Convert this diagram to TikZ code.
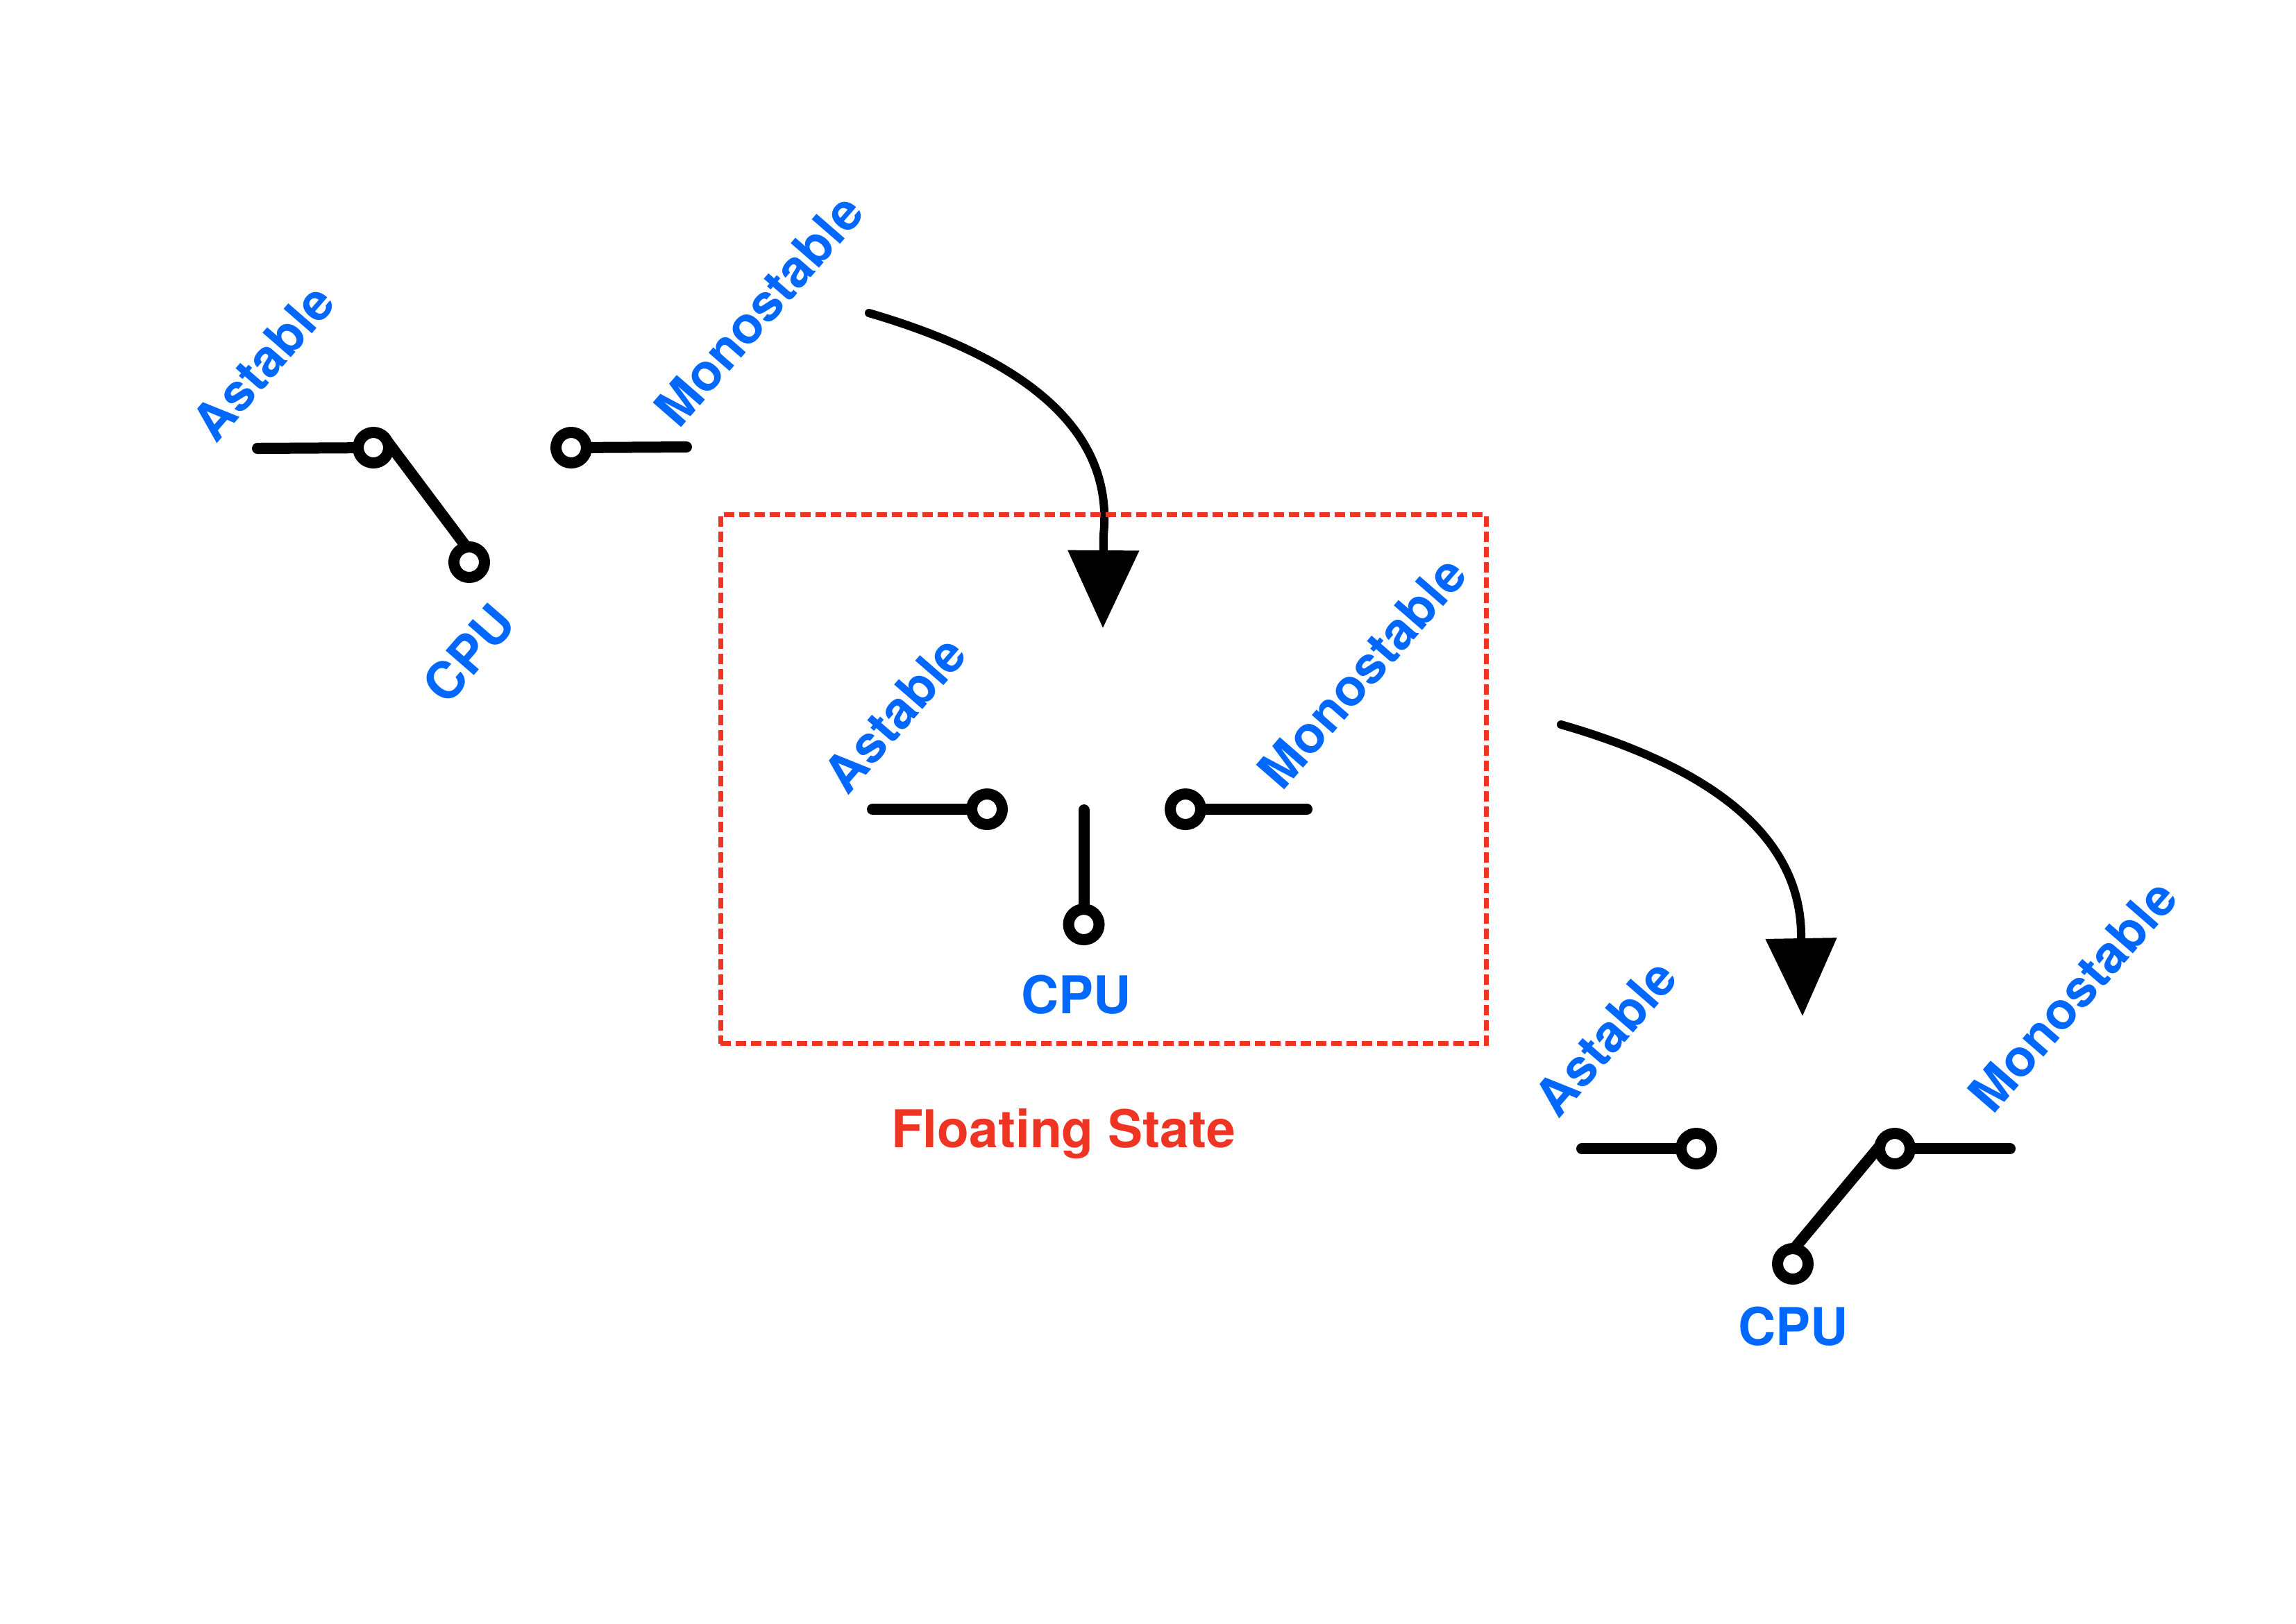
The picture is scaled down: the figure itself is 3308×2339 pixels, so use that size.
\documentclass[tikz,border=0pt]{standalone}
\usepackage{fontspec}
\setmainfont{TeX Gyre Heros}
\usetikzlibrary{arrows.meta}
\definecolor{labelblue}{HTML}{0068FF}
\definecolor{framered}{HTML}{EE3524}
\tikzset{
  x=0.25pt,y=-0.25pt,
  lead/.style={line width=4pt,line cap=round,black},
  pin/.style={circle,draw=black,fill=white,line width=4pt,minimum size=11pt,inner sep=0pt,outer sep=0pt},
  lab/.style={text=labelblue,font=\fontsize{18.75}{22}\selectfont\bfseries,inner sep=0pt,outer sep=0pt,anchor=base west},
  rlab/.style={lab,font=\fontsize{18.5}{22}\selectfont\bfseries,rotate=49},
  flow/.style={line width=3pt,line cap=round,-{Triangle[length=28pt,width=25pt]}},
  floatframe/.style={draw=framered,line width=1.75pt,dash pattern=on 3.75pt off 1.75pt,minimum width=275.75pt,minimum height=190.5pt,inner sep=0pt,outer sep=0pt}
}
\begin{document}
\begin{tikzpicture}
\useasboundingbox (0,0) rectangle (3308,2339);
% arrows
\coordinate (s1) at (1252,451);
\coordinate (t1) at (1589,905);
\coordinate (s2) at (2249,1044);
\coordinate (t2) at (2597,1464);
\draw[flow] (s1) .. controls (1440,506) and (1607,600) .. (1590,770) -- (t1);
\draw[flow] (s2) .. controls (2437,1098) and (2597,1190) .. (2595,1352) -- (t2);
% frame
\node[floatframe] (frame) at (1589.5,1122.5) {};
% group 1
\node[pin] (a1) at (538,645) {};
\node[pin] (m1) at (823,645) {};
\node[pin] (c1) at (676,810) {};
\coordinate (la1) at (371,646);
\coordinate (lm1) at (989,644);
\draw[lead] (la1) -- (a1);
\draw[lead] (m1) -- (lm1);
\draw[lead] (a1.25) -- (c1.100);
\node[rlab] (ta1) at (311,640) {Astable};
\node[rlab] (tm1) at (978,619) {Monostable};
\node[rlab] (tc1) at (644,1018) {CPU};
% group 2
\node[pin] (a2) at (1422,1166) {};
\node[pin] (m2) at (1708,1166) {};
\node[pin] (c2) at (1561.5,1332) {};
\coordinate (la2) at (1257,1166);
\coordinate (lm2) at (1883,1166);
\coordinate (lc2) at (1561.5,1167);
\draw[lead] (la2) -- (a2);
\draw[lead] (m2) -- (lm2);
\draw[lead] (lc2) -- (c2);
\node[rlab] (ta2) at (1221,1147) {Astable};
\node[rlab] (tm2) at (1847,1141) {Monostable};
\node[lab] (tc2) at (1471,1460) {CPU};
\node[lab,text=framered] (tf) at (1284,1653) {Floating State};
% group 3
\node[pin] (a3) at (2444,1655) {};
\node[pin] (m3) at (2730,1655) {};
\node[pin] (c3) at (2583,1821) {};
\coordinate (la3) at (2279,1655);
\coordinate (lm3) at (2896,1655);
\draw[lead] (la3) -- (a3);
\draw[lead] (m3) -- (lm3);
\draw[lead] (m3.170) -- (c3.85);
\node[rlab] (ta3) at (2245,1613) {Astable};
\node[rlab] (tm3) at (2871,1607) {Monostable};
\node[lab] (tc3) at (2504,1938) {CPU};
\end{tikzpicture}
\end{document}
